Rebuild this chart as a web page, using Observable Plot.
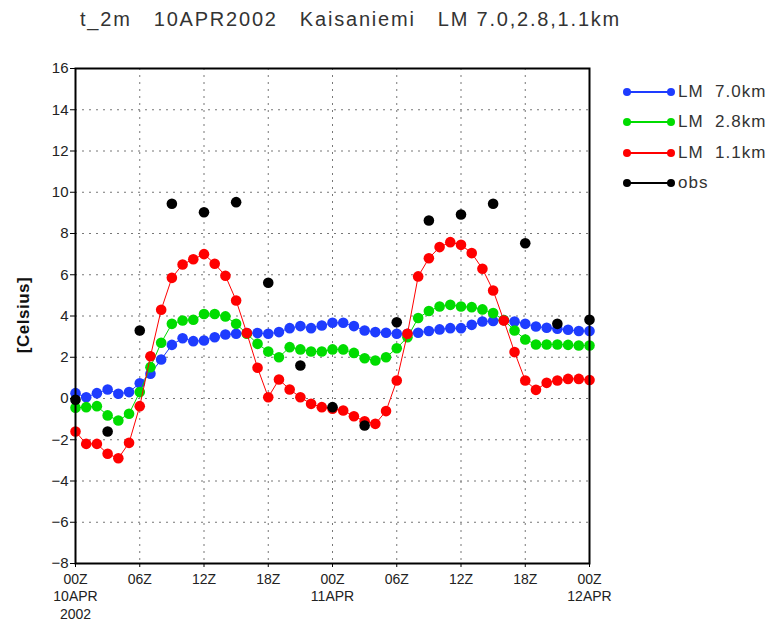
<!DOCTYPE html>
<html>
<head>
<meta charset="utf-8">
<script src="https://cdn.jsdelivr.net/npm/d3@7"></script>
<script src="https://cdn.jsdelivr.net/npm/@observablehq/plot@0.6"></script>
<style>
  html, body { margin: 0; padding: 0; background: #fff; }
  #wrap { position: relative; width: 772px; height: 623px; font-family: "Liberation Sans", "DejaVu Sans", sans-serif; }
  #title { position: absolute; left: 80px; top: 8px; font-size: 20px; color: #333; white-space: pre; letter-spacing: 1.8px; }
  #ylab { position: absolute; left: 24px; top: 315px; transform: translate(-50%, -50%) rotate(-90deg); font-size: 17px; font-weight: bold; color: #111; white-space: pre; letter-spacing: 0.5px; }
  #legend { position: absolute; left: 623px; top: 77px; }
  .row { display: flex; align-items: center; height: 30.3px; font-size: 17px; color: #333; white-space: pre; letter-spacing: 1px; }
  .row svg { margin-right: 3px; }
</style>
</head>
<body>
<div id="wrap">
  <div id="chart"></div>
  <div id="title"></div>
  <div id="ylab"></div>
  <div id="legend"></div>
</div>
<script>
// ---- data ----
const titleText = "t_2m   10APR2002   Kaisaniemi   LM 7.0,2.8,1.1km";
const yTitle = "[Celsius]";
const hours = d3.range(49); // forecast hour from 00Z 10APR2002
const lm70 = [0.26, 0.06, 0.26, 0.44, 0.23, 0.31, 0.74, 1.2, 1.89, 2.6, 2.92, 2.78, 2.81, 2.97, 3.1, 3.14, 3.17, 3.17, 3.14, 3.22, 3.41, 3.51, 3.41, 3.54, 3.67, 3.67, 3.51, 3.3, 3.22, 3.19, 3.14, 3.14, 3.19, 3.27, 3.35, 3.41, 3.41, 3.57, 3.73, 3.76, 3.8, 3.73, 3.62, 3.49, 3.43, 3.38, 3.33, 3.27, 3.27];
const lm28 = [-0.45, -0.42, -0.37, -0.82, -1.07, -0.74, 0.31, 1.52, 2.7, 3.62, 3.78, 3.82, 4.1, 4.1, 3.98, 3.62, 3.14, 2.65, 2.28, 2.0, 2.49, 2.38, 2.28, 2.28, 2.38, 2.38, 2.21, 1.95, 1.84, 2.0, 2.44, 2.97, 3.9, 4.24, 4.46, 4.54, 4.46, 4.43, 4.32, 4.14, 3.8, 3.3, 2.86, 2.62, 2.62, 2.62, 2.6, 2.57, 2.57];
const lm11 = [-1.6, -2.2, -2.2, -2.68, -2.9, -2.15, -0.37, 2.05, 4.3, 5.85, 6.5, 6.75, 7.0, 6.53, 5.95, 4.75, 3.17, 1.49, 0.06, 0.92, 0.44, 0.06, -0.26, -0.42, -0.5, -0.58, -0.86, -1.1, -1.23, -0.61, 0.87, 3.14, 5.92, 6.8, 7.34, 7.58, 7.45, 7.05, 6.29, 5.24, 3.78, 2.25, 0.87, 0.42, 0.76, 0.87, 0.95, 0.95, 0.9];
const obsHours = [0, 3, 6, 9, 12, 15, 18, 21, 24, 27, 30, 33, 36, 39, 42, 45, 48];
const obs = [-0.06, -1.6, 3.3, 9.44, 9.03, 9.52, 5.61, 1.6, -0.42, -1.31, 3.7, 8.63, 8.92, 9.44, 7.53, 3.62, 3.82];
const seriesNames = ["LM  7.0km", "LM  2.8km", "LM  1.1km", "obs"];
const seriesColors = ["#1e3cff", "#00dc00", "#ff0000", "#000000"];
const xTicks = [0, 6, 12, 18, 24, 30, 36, 42, 48];
const xTickLabels = ["00Z\n10APR\n2002", "06Z", "12Z", "18Z", "00Z\n11APR", "06Z", "12Z", "18Z", "00Z\n12APR"];
const yTicks = [-8, -6, -4, -2, 0, 2, 4, 6, 8, 10, 12, 14, 16];

// ---- tables ----
const models = [lm70, lm28, lm11].map((vals, i) =>
  hours.map((h, j) => ({ h, v: vals[j], s: seriesNames[i] })));
const obsData = obsHours.map((h, j) => ({ h, v: obs[j] }));

const marks = [
  Plot.gridX(xTicks, { stroke: "#777", strokeOpacity: 1, strokeDasharray: "2,5" }),
  Plot.gridY(yTicks, { stroke: "#777", strokeOpacity: 1, strokeDasharray: "2,5" }),
  Plot.axisY(yTicks, { tickSize: 5, tickPadding: 2, fontSize: 15, fill: "#222", label: null, tickFormat: d => d < 0 ? "\u2212" + Math.abs(d) : String(d) }),
  Plot.axisX(xTicks, { tickSize: 4, tickPadding: 4, fontSize: 14, fill: "#222", label: null, lineHeight: 1.25, tickFormat: (d, i) => xTickLabels[i] })
];
models.forEach((data, i) => {
  marks.push(Plot.line(data, { x: "h", y: "v", stroke: seriesColors[i], strokeWidth: 1 }));
  marks.push(Plot.dot(data, { x: "h", y: "v", fill: seriesColors[i], r: 5.3, stroke: "none" }));
});
marks.push(Plot.dot(obsData, { x: "h", y: "v", fill: seriesColors[3], r: 5.3, stroke: "none" }));
marks.push(Plot.frame({ stroke: "#000", strokeWidth: 2 }));

const chart = Plot.plot({
  width: 772,
  height: 623,
  marginLeft: 75,
  marginRight: 183,
  marginTop: 68,
  marginBottom: 60,
  style: { fontFamily: "'Liberation Sans', 'DejaVu Sans', sans-serif", background: "#fff", overflow: "visible" },
  x: { domain: [0, 48] },
  y: { domain: [-8, 16] },
  marks
});
document.getElementById("chart").appendChild(chart);
document.getElementById("title").textContent = titleText;
document.getElementById("ylab").textContent = yTitle;

const legend = document.getElementById("legend");
seriesNames.forEach((name, i) => {
  const row = document.createElement("div");
  row.className = "row";
  const c = seriesColors[i];
  row.innerHTML = `<svg width="52" height="14"><line x1="4" y1="7" x2="48" y2="7" stroke="${c}" stroke-width="2"/><circle cx="4" cy="7" r="4" fill="${c}"/><circle cx="48" cy="7" r="4" fill="${c}"/></svg>`;
  const span = document.createElement("span");
  span.textContent = name;
  row.appendChild(span);
  legend.appendChild(row);
});
</script>
</body>
</html>
